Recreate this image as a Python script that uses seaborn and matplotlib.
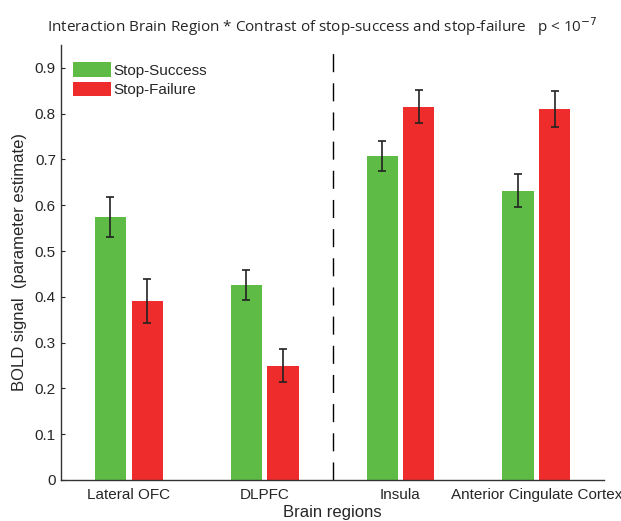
import matplotlib
matplotlib.use("Agg")
import matplotlib.pyplot as plt
import seaborn as sns
import pandas as pd
import numpy as np

regions = ["Lateral OFC", "DLPFC", "Insula", "Anterior Cingulate Cortex"]
conditions = ["Stop-Success", "Stop-Failure"]
success_vals = [0.574, 0.426, 0.707, 0.632]
failure_vals = [0.390, 0.250, 0.815, 0.810]
success_err = [0.044, 0.033, 0.033, 0.036]
failure_err = [0.048, 0.035, 0.036, 0.040]
yticks = [0, 0.1, 0.2, 0.3, 0.4, 0.5, 0.6, 0.7, 0.8, 0.9]
colors = ["#5DBB46", "#EE2C2C"]

df = pd.DataFrame({
    "region": regions * 2,
    "condition": [conditions[0]] * 4 + [conditions[1]] * 4,
    "value": success_vals + failure_vals,
    "err": success_err + failure_err,
})

sns.set_style("white")
plt.rcParams['font.family'] = ['Liberation Sans', 'DejaVu Sans']

fig = plt.figure(figsize=(6.21, 5.21), dpi=100)
ax = fig.add_axes([0.098, 0.0787, 0.875, 0.835])

sns.barplot(data=df, x="region", y="value", hue="condition", order=regions,
            hue_order=conditions, palette=colors, width=0.54, gap=0.15,
            errorbar=None, ax=ax, saturation=1, linewidth=0)

for cont, errs in zip(ax.containers, [success_err, failure_err]):
    xs = [p.get_x() + p.get_width() / 2 for p in cont]
    hs = [p.get_height() for p in cont]
    ax.errorbar(xs, hs, yerr=errs, fmt="none", ecolor="#222222",
                elinewidth=1.2, capsize=3, capthick=1.2)

ax.axvline(1.5, color="black", linestyle=(0, (13, 8)), linewidth=1.0)

ax.set_xlim(-0.5, 3.5)
ax.set_ylim(0, 0.95)
ax.set_yticks(yticks)
ax.set_yticklabels([("%g" % t) for t in yticks], fontsize=11)
ax.tick_params(axis="x", labelsize=11, length=0, pad=6)
ax.tick_params(axis="y", direction="in", length=3, left=True)
for s in ["top", "right"]:
    ax.spines[s].set_visible(False)
for s in ["left", "bottom"]:
    ax.spines[s].set_color("#333333")
    ax.spines[s].set_linewidth(1.0)

ax.set_xlabel("Brain regions", fontsize=12, labelpad=2)
ax.set_ylabel("BOLD signal  (parameter estimate)", fontsize=12, labelpad=6)

leg = ax.legend(loc="upper left", bbox_to_anchor=(0.003, 0.985), frameon=False,
                fontsize=11, handlelength=2.5, handleheight=1.1,
                handletextpad=0.15, labelspacing=0.25, borderaxespad=0.3)

fig.text(0.519, 0.948, "Interaction Brain Region * Contrast of stop-success and stop-failure   p < 10$^{-7}$",
         ha="center", va="center", fontsize=11, family=["Open Sans", "DejaVu Sans"])

fig.savefig("out.png", dpi=100)
